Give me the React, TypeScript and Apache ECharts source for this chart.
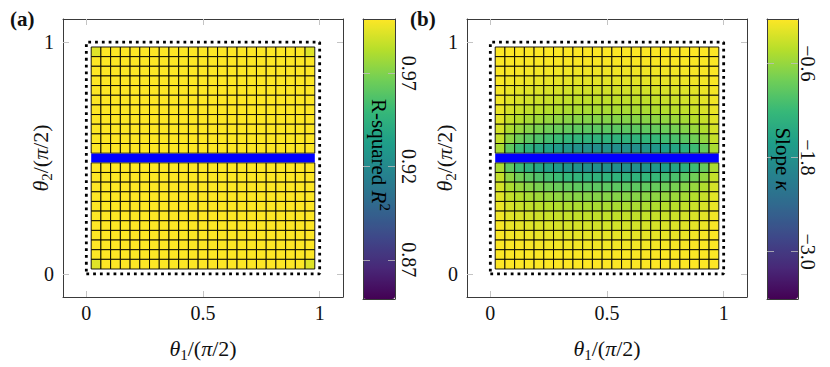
import React, { useEffect, useRef } from 'react';
import * as echarts from 'echarts';

// cell centres of the 23x23 grid (theta / (pi/2))
const thetaCenters = [0.0417, 0.0833, 0.125, 0.1667, 0.2083, 0.25, 0.2917, 0.3333, 0.375, 0.4167, 0.4583, 0.5, 0.5417, 0.5833, 0.625, 0.6667, 0.7083, 0.75, 0.7917, 0.8333, 0.875, 0.9167, 0.9583];
const cellSize = 0.0417;
const xTickValues = [0, 0.5, 1];
const yTickValues = [0, 1];
const r2Range = [0.849, 0.999];
const r2Ticks = [0.87, 0.92, 0.97];
const slopeRange = [-3.603, -0.036];
const slopeTicks = [-3.0, -1.8, -0.6];
const blueRowX = [0.0208, 0.9792];
const blueRowY = 0.5;
const boundaryX = [0, 1, 1, 0, 0];
const boundaryY = [0, 0, 1, 1, 0];

// rows listed from top (theta2 = 0.9583) to bottom (theta2 = 0.0417); null = blue row
const r2Rows: (number[] | null)[] = [
  [0.992, 0.999, 0.999, 0.999, 0.999, 0.999, 0.999, 0.999, 0.999, 0.999, 0.999, 0.999, 0.999, 0.999, 0.999, 0.999, 0.999, 0.999, 0.999, 0.999, 0.999, 0.999, 0.992],
  [0.999, 0.999, 0.999, 0.999, 0.999, 0.999, 0.999, 0.999, 0.999, 0.999, 0.999, 0.999, 0.999, 0.999, 0.999, 0.999, 0.999, 0.999, 0.999, 0.999, 0.999, 0.999, 0.999],
  [0.999, 0.999, 0.999, 0.999, 0.999, 0.999, 0.999, 0.999, 0.999, 0.999, 0.999, 0.999, 0.999, 0.999, 0.999, 0.999, 0.999, 0.999, 0.999, 0.999, 0.999, 0.999, 0.999],
  [0.999, 0.999, 0.999, 0.999, 0.999, 0.999, 0.999, 0.999, 0.999, 0.999, 0.999, 0.999, 0.999, 0.999, 0.999, 0.999, 0.999, 0.999, 0.999, 0.999, 0.999, 0.999, 0.999],
  [0.999, 0.999, 0.999, 0.999, 0.999, 0.999, 0.999, 0.999, 0.999, 0.999, 0.999, 0.999, 0.999, 0.999, 0.999, 0.999, 0.999, 0.999, 0.999, 0.999, 0.999, 0.999, 0.999],
  [0.999, 0.999, 0.999, 0.999, 0.999, 0.999, 0.999, 0.999, 0.999, 0.999, 0.999, 0.999, 0.999, 0.999, 0.999, 0.999, 0.999, 0.999, 0.999, 0.999, 0.999, 0.999, 0.999],
  [0.999, 0.999, 0.999, 0.999, 0.999, 0.999, 0.999, 0.999, 0.999, 0.999, 0.999, 0.999, 0.999, 0.999, 0.999, 0.999, 0.999, 0.999, 0.999, 0.999, 0.999, 0.999, 0.999],
  [0.999, 0.999, 0.999, 0.999, 0.999, 0.999, 0.999, 0.999, 0.999, 0.999, 0.999, 0.999, 0.999, 0.999, 0.999, 0.999, 0.999, 0.999, 0.999, 0.999, 0.999, 0.999, 0.999],
  [0.999, 0.999, 0.999, 0.999, 0.999, 0.999, 0.999, 0.999, 0.999, 0.999, 0.999, 0.999, 0.999, 0.999, 0.999, 0.999, 0.999, 0.999, 0.999, 0.999, 0.999, 0.999, 0.999],
  [0.999, 0.999, 0.999, 0.999, 0.999, 0.999, 0.999, 0.999, 0.999, 0.999, 0.999, 0.999, 0.999, 0.999, 0.999, 0.999, 0.999, 0.999, 0.999, 0.999, 0.999, 0.999, 0.999],
  [0.999, 0.999, 0.999, 0.999, 0.999, 0.999, 0.999, 0.999, 0.999, 0.999, 0.999, 0.999, 0.999, 0.999, 0.999, 0.999, 0.999, 0.999, 0.999, 0.999, 0.999, 0.999, 0.999],
  null,
  [0.999, 0.999, 0.999, 0.999, 0.999, 0.999, 0.999, 0.999, 0.999, 0.999, 0.999, 0.999, 0.999, 0.999, 0.999, 0.999, 0.999, 0.999, 0.999, 0.999, 0.999, 0.999, 0.999],
  [0.999, 0.999, 0.999, 0.999, 0.999, 0.999, 0.999, 0.999, 0.999, 0.999, 0.999, 0.999, 0.999, 0.999, 0.999, 0.999, 0.999, 0.999, 0.999, 0.999, 0.999, 0.999, 0.999],
  [0.999, 0.999, 0.999, 0.999, 0.999, 0.999, 0.999, 0.999, 0.999, 0.999, 0.999, 0.999, 0.999, 0.999, 0.999, 0.999, 0.999, 0.999, 0.999, 0.999, 0.999, 0.999, 0.999],
  [0.999, 0.999, 0.999, 0.999, 0.999, 0.999, 0.999, 0.999, 0.999, 0.999, 0.999, 0.999, 0.999, 0.999, 0.999, 0.999, 0.999, 0.999, 0.999, 0.999, 0.999, 0.999, 0.999],
  [0.999, 0.999, 0.999, 0.999, 0.999, 0.999, 0.999, 0.999, 0.999, 0.999, 0.999, 0.999, 0.999, 0.999, 0.999, 0.999, 0.999, 0.999, 0.999, 0.999, 0.999, 0.999, 0.999],
  [0.999, 0.999, 0.999, 0.999, 0.999, 0.999, 0.999, 0.999, 0.999, 0.999, 0.999, 0.999, 0.999, 0.999, 0.999, 0.999, 0.999, 0.999, 0.999, 0.999, 0.999, 0.999, 0.999],
  [0.999, 0.999, 0.999, 0.999, 0.999, 0.999, 0.999, 0.999, 0.999, 0.999, 0.999, 0.999, 0.999, 0.999, 0.999, 0.999, 0.999, 0.999, 0.999, 0.999, 0.999, 0.999, 0.999],
  [0.999, 0.999, 0.999, 0.999, 0.999, 0.999, 0.999, 0.999, 0.999, 0.999, 0.999, 0.999, 0.999, 0.999, 0.999, 0.999, 0.999, 0.999, 0.999, 0.999, 0.999, 0.999, 0.999],
  [0.999, 0.999, 0.999, 0.999, 0.999, 0.999, 0.999, 0.999, 0.999, 0.999, 0.999, 0.999, 0.999, 0.999, 0.999, 0.999, 0.999, 0.999, 0.999, 0.999, 0.999, 0.999, 0.999],
  [0.999, 0.999, 0.999, 0.999, 0.999, 0.999, 0.999, 0.999, 0.999, 0.999, 0.999, 0.999, 0.999, 0.999, 0.999, 0.999, 0.999, 0.999, 0.999, 0.999, 0.999, 0.999, 0.999],
  [0.992, 0.999, 0.999, 0.999, 0.999, 0.999, 0.999, 0.999, 0.999, 0.999, 0.999, 0.999, 0.999, 0.999, 0.999, 0.999, 0.999, 0.999, 0.999, 0.999, 0.999, 0.999, 0.992],
];

const slopeRows: (number[] | null)[] = [
  [-0.035, -0.037, -0.038, -0.039, -0.04, -0.04, -0.04, -0.04, -0.04, -0.04, -0.04, -0.04, -0.04, -0.04, -0.04, -0.04, -0.04, -0.04, -0.04, -0.039, -0.038, -0.037, -0.035],
  [-0.04, -0.045, -0.05, -0.05, -0.055, -0.055, -0.06, -0.06, -0.06, -0.06, -0.06, -0.06, -0.06, -0.06, -0.06, -0.06, -0.06, -0.055, -0.055, -0.05, -0.05, -0.045, -0.04],
  [-0.04, -0.06, -0.07, -0.08, -0.09, -0.09, -0.1, -0.1, -0.11, -0.11, -0.11, -0.11, -0.11, -0.11, -0.11, -0.11, -0.1, -0.1, -0.09, -0.08, -0.07, -0.06, -0.04],
  [-0.05, -0.09, -0.11, -0.13, -0.14, -0.15, -0.16, -0.17, -0.18, -0.18, -0.18, -0.18, -0.18, -0.18, -0.18, -0.17, -0.17, -0.16, -0.15, -0.13, -0.11, -0.09, -0.05],
  [-0.08, -0.14, -0.18, -0.2, -0.22, -0.24, -0.25, -0.27, -0.27, -0.28, -0.28, -0.28, -0.28, -0.28, -0.28, -0.27, -0.26, -0.25, -0.23, -0.21, -0.18, -0.13, -0.08],
  [-0.1, -0.19, -0.24, -0.28, -0.3, -0.33, -0.35, -0.36, -0.37, -0.38, -0.38, -0.38, -0.38, -0.38, -0.38, -0.37, -0.35, -0.33, -0.31, -0.28, -0.24, -0.18, -0.1],
  [-0.14, -0.25, -0.32, -0.37, -0.4, -0.43, -0.46, -0.48, -0.49, -0.5, -0.5, -0.5, -0.5, -0.5, -0.5, -0.49, -0.47, -0.44, -0.41, -0.37, -0.32, -0.24, -0.14],
  [-0.19, -0.35, -0.44, -0.51, -0.56, -0.6, -0.64, -0.67, -0.69, -0.7, -0.7, -0.7, -0.7, -0.7, -0.69, -0.68, -0.65, -0.62, -0.57, -0.52, -0.44, -0.34, -0.19],
  [-0.26, -0.48, -0.6, -0.69, -0.76, -0.82, -0.86, -0.9, -0.93, -0.95, -0.95, -0.95, -0.95, -0.95, -0.94, -0.92, -0.88, -0.84, -0.78, -0.7, -0.6, -0.46, -0.26],
  [-0.35, -0.65, -0.82, -0.95, -1.04, -1.12, -1.18, -1.24, -1.27, -1.3, -1.3, -1.3, -1.3, -1.3, -1.29, -1.26, -1.21, -1.14, -1.07, -0.96, -0.82, -0.62, -0.35],
  [-0.5, -0.93, -1.17, -1.35, -1.48, -1.59, -1.68, -1.76, -1.81, -1.85, -1.85, -1.85, -1.85, -1.85, -1.83, -1.79, -1.72, -1.63, -1.52, -1.37, -1.17, -0.89, -0.5],
  null,
  [-0.5, -0.93, -1.17, -1.35, -1.48, -1.59, -1.68, -1.76, -1.81, -1.85, -1.85, -1.85, -1.85, -1.85, -1.83, -1.79, -1.72, -1.63, -1.52, -1.37, -1.17, -0.89, -0.5],
  [-0.35, -0.65, -0.82, -0.95, -1.04, -1.12, -1.18, -1.24, -1.27, -1.3, -1.3, -1.3, -1.3, -1.3, -1.29, -1.26, -1.21, -1.14, -1.07, -0.96, -0.82, -0.62, -0.35],
  [-0.26, -0.48, -0.6, -0.69, -0.76, -0.82, -0.86, -0.9, -0.93, -0.95, -0.95, -0.95, -0.95, -0.95, -0.94, -0.92, -0.88, -0.84, -0.78, -0.7, -0.6, -0.46, -0.26],
  [-0.19, -0.35, -0.44, -0.51, -0.56, -0.6, -0.64, -0.67, -0.69, -0.7, -0.7, -0.7, -0.7, -0.7, -0.69, -0.68, -0.65, -0.62, -0.57, -0.52, -0.44, -0.34, -0.19],
  [-0.14, -0.25, -0.32, -0.37, -0.4, -0.43, -0.46, -0.48, -0.49, -0.5, -0.5, -0.5, -0.5, -0.5, -0.5, -0.49, -0.47, -0.44, -0.41, -0.37, -0.32, -0.24, -0.14],
  [-0.1, -0.19, -0.23, -0.27, -0.3, -0.32, -0.34, -0.35, -0.36, -0.37, -0.37, -0.37, -0.37, -0.37, -0.37, -0.36, -0.34, -0.33, -0.3, -0.27, -0.23, -0.18, -0.1],
  [-0.07, -0.14, -0.17, -0.2, -0.22, -0.23, -0.25, -0.26, -0.26, -0.27, -0.27, -0.27, -0.27, -0.27, -0.27, -0.26, -0.25, -0.24, -0.22, -0.2, -0.17, -0.13, -0.07],
  [-0.05, -0.09, -0.11, -0.12, -0.14, -0.15, -0.15, -0.16, -0.17, -0.17, -0.17, -0.17, -0.17, -0.17, -0.17, -0.16, -0.16, -0.15, -0.14, -0.13, -0.11, -0.08, -0.05],
  [-0.04, -0.05, -0.06, -0.07, -0.08, -0.09, -0.09, -0.1, -0.1, -0.1, -0.1, -0.1, -0.1, -0.1, -0.1, -0.1, -0.09, -0.09, -0.08, -0.07, -0.06, -0.05, -0.04],
  [-0.04, -0.045, -0.05, -0.05, -0.055, -0.055, -0.06, -0.06, -0.06, -0.06, -0.06, -0.06, -0.06, -0.06, -0.06, -0.06, -0.06, -0.055, -0.055, -0.05, -0.05, -0.045, -0.04],
  [-0.035, -0.037, -0.038, -0.039, -0.04, -0.04, -0.04, -0.04, -0.04, -0.04, -0.04, -0.04, -0.04, -0.04, -0.04, -0.04, -0.04, -0.04, -0.04, -0.039, -0.038, -0.037, -0.035],
];

const viridis = ['#440154', '#482878', '#3e4989', '#31688e', '#26828e', '#1f9e89', '#35b779', '#6ece58', '#b5de2b', '#fde725'];

const FONT = "'Liberation Serif', 'DejaVu Serif', serif";

function toCells(rows: (number[] | null)[]) {
  const out: number[][] = [];
  rows.forEach((row, i) => {
    if (!row) return;
    const y = thetaCenters[thetaCenters.length - 1 - i];
    row.forEach((v, j) => out.push([thetaCenters[j], y, v]));
  });
  return out;
}

const minusFmt = (v: number) => (v < 0 ? '\u2212' + Math.abs(v).toFixed(1) : v.toFixed(1));

const thetaRich = {
  n: { fontFamily: FONT, fontSize: 22, lineHeight: 28, color: '#111' },
  i: { fontFamily: FONT, fontSize: 22, lineHeight: 28, fontStyle: 'italic', color: '#111' },
  sub: { fontFamily: FONT, fontSize: 15, lineHeight: 15, verticalAlign: 'bottom', color: '#111' },
};

function mainX(gridIndex: number, position: string, primary: boolean) {
  return {
    type: 'value', gridIndex, position, min: -0.1, max: 1.1,
    axisLine: { show: true, onZero: false, lineStyle: { color: '#3a3a3a', width: 1 } },
    axisTick: { show: true, inside: true, length: 6, customValues: xTickValues, lineStyle: { color: '#c4c4c4' } },
    axisLabel: { show: primary, customValues: xTickValues, margin: 6, fontFamily: FONT, fontSize: 20, color: '#111' },
    splitLine: { show: false },
    name: primary ? '{i|θ}{sub|1}{n|/(}{i|π}{n|/2)}' : '',
    nameLocation: 'middle', nameGap: 37, nameMoveOverlap: false,
    nameTextStyle: { rich: thetaRich },
  };
}
function mainY(gridIndex: number, position: string, primary: boolean) {
  return {
    type: 'value', gridIndex, position, min: -0.1, max: 1.1,
    axisLine: { show: true, onZero: false, lineStyle: { color: '#3a3a3a', width: 1 } },
    axisTick: { show: true, inside: true, length: 6, customValues: yTickValues, lineStyle: { color: '#c4c4c4' } },
    axisLabel: { show: primary, customValues: yTickValues, margin: 9, fontFamily: FONT, fontSize: 20, color: '#111' },
    splitLine: { show: false },
    name: primary ? '{i|θ}{sub|2}{n|/(}{i|π}{n|/2)}' : '',
    nameLocation: 'middle', nameGap: 9, nameRotate: 90, nameMoveOverlap: false,
    nameTextStyle: { rich: thetaRich },
  };
}
function barX(gridIndex: number, position: string) {
  return {
    type: 'value', gridIndex, position, min: 0, max: 1, z: 10,
    axisLine: { show: true, onZero: false, lineStyle: { color: '#3a3a3a', width: 1 } },
    axisTick: { show: false }, axisLabel: { show: false }, splitLine: { show: false },
  };
}
function barY(gridIndex: number, position: string, range: number[], ticks: number[], primary: boolean, fmt: (v: number) => string, margin: number) {
  return {
    type: 'value', gridIndex, position, min: range[0], max: range[1], z: 10,
    axisLine: { show: true, onZero: false, lineStyle: { color: '#3a3a3a', width: 1 } },
    axisTick: { show: true, inside: true, length: 7, customValues: ticks, lineStyle: { color: 'rgba(190,190,190,0.8)' } },
    axisLabel: { show: primary, customValues: ticks, rotate: -90, margin, fontFamily: FONT, fontSize: 20, color: '#111', formatter: fmt },
    splitLine: { show: false },
  };
}

function cellSeries(xi: number, yi: number, rows: (number[] | null)[]) {
  return {
    type: 'custom', xAxisIndex: xi, yAxisIndex: yi, clip: false,
    data: toCells(rows),
    encode: { x: 0, y: 1 },
    renderItem: (params: any, api: any) => {
      const c = api.coord([api.value(0), api.value(1)]);
      const s = api.size([cellSize, cellSize]);
      return {
        type: 'rect',
        shape: { x: c[0] - s[0] / 2, y: c[1] - s[1] / 2, width: s[0], height: s[1] },
        style: { fill: api.visual('color'), stroke: '#000', lineWidth: 0.9 },
      };
    },
  };
}
function blueSeries(xi: number, yi: number) {
  return {
    type: 'line', xAxisIndex: xi, yAxisIndex: yi, symbol: 'none', silent: true, z: 5,
    data: blueRowX.map((x) => [x, blueRowY]),
    lineStyle: { color: '#0000ff', width: 8.5, cap: 'butt' },
  };
}
function boundarySeries(xi: number, yi: number) {
  return {
    type: 'line', xAxisIndex: xi, yAxisIndex: yi, symbol: 'none', silent: true, z: 5,
    data: boundaryX.map((x, i) => [x, boundaryY[i]]),
    lineStyle: { color: '#000', width: 2.8, type: [2.8, 4], cap: 'butt' },
  };
}

const whiteRich = {
  n: { fontFamily: FONT, fontSize: 21, lineHeight: 26, color: '#f4f4f4' },
  i: { fontFamily: FONT, fontSize: 21, lineHeight: 26, fontStyle: 'italic', color: '#f4f4f4' },
  sup: { fontFamily: FONT, fontSize: 15, lineHeight: 15, verticalAlign: 'top', color: '#f4f4f4' },
};

export default function App() {
  const ref = useRef<HTMLDivElement>(null);
  useEffect(() => {
    if (!ref.current) return;
    const chart = echarts.init(ref.current, null, { renderer: 'svg' });
    const r2Fmt = (v: number) => v.toFixed(2);
    chart.setOption({
      animation: false,
      backgroundColor: '#fff',
      grid: [
        { left: 63, top: 19, width: 280, height: 280 },
        { left: 467, top: 19, width: 280, height: 280 },
        { left: 363, top: 19, width: 32, height: 280 },
        { left: 767, top: 19, width: 31, height: 280 },
      ],
      xAxis: [
        mainX(0, 'bottom', true), mainX(0, 'top', false),
        mainX(1, 'bottom', true), mainX(1, 'top', false),
        barX(2, 'bottom'), barX(2, 'top'),
        barX(3, 'bottom'), barX(3, 'top'),
      ],
      yAxis: [
        mainY(0, 'left', true), mainY(0, 'right', false),
        mainY(1, 'left', true), mainY(1, 'right', false),
        barY(2, 'left', r2Range, r2Ticks, false, r2Fmt, 4), barY(2, 'right', r2Range, r2Ticks, true, r2Fmt, 4),
        barY(3, 'left', slopeRange, slopeTicks, false, minusFmt, 0), barY(3, 'right', slopeRange, slopeTicks, true, minusFmt, 0),
      ],
      visualMap: [
        {
          type: 'continuous', min: r2Range[0], max: r2Range[1], seriesIndex: 0, dimension: 2,
          inRange: { color: viridis }, left: 363, top: 19, itemWidth: 32, itemHeight: 280,
          calculable: false, padding: 0, hoverLink: false, text: null,
        },
        {
          type: 'continuous', min: slopeRange[0], max: slopeRange[1], seriesIndex: 1, dimension: 2,
          inRange: { color: viridis }, left: 767, top: 19, itemWidth: 31, itemHeight: 280,
          calculable: false, padding: 0, hoverLink: false, text: null,
        },
      ],
      series: [
        cellSeries(0, 0, r2Rows),
        cellSeries(2, 2, slopeRows),
        blueSeries(0, 0), blueSeries(2, 2),
        boundarySeries(0, 0), boundarySeries(2, 2),
      ],
      graphic: [
        { type: 'text', x: 10, y: 19, z: 20, style: { text: '(a)', font: `bold 21px ${FONT}`, fill: '#111', align: 'left', verticalAlign: 'middle', textAlign: 'left', textVerticalAlign: 'middle' } },
        { type: 'text', x: 410, y: 19, z: 20, style: { text: '(b)', font: `bold 21px ${FONT}`, fill: '#111', align: 'left', verticalAlign: 'middle', textAlign: 'left', textVerticalAlign: 'middle' } },
        {
          type: 'text', x: 379, y: 155, rotation: -Math.PI / 2, z: 20,
          style: { text: '{n|R-squared }{i|R}{sup|2}', align: 'center', verticalAlign: 'middle', textAlign: 'center', textVerticalAlign: 'middle', rich: whiteRich },
        },
        {
          type: 'text', x: 782.5, y: 159, rotation: -Math.PI / 2, z: 20,
          style: { text: '{n|Slope }{i|κ}', align: 'center', verticalAlign: 'middle', textAlign: 'center', textVerticalAlign: 'middle', rich: whiteRich },
        },
      ],
    });
    return () => chart.dispose();
  }, []);
  return <div ref={ref} style={{ position: 'fixed', left: 0, top: 0, width: 830, height: 367 }} />;
}
